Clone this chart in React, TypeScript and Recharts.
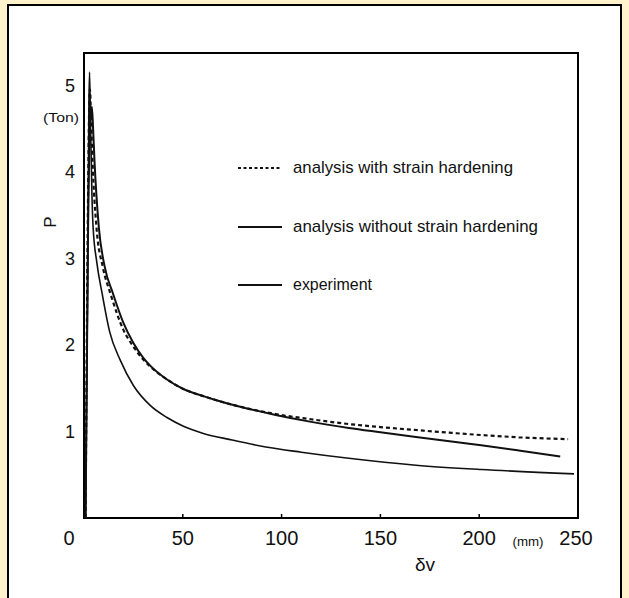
import React from 'react';
import { LineChart, Line, XAxis, YAxis, ReferenceArea } from 'recharts';

// P (Ton) versus δv (mm)
const withHardening: [number, number][] = [
  [0.8, 0], [2.0, 3.6], [2.6, 4.7], [3.0, 4.95], [3.6, 4.6], [4.3, 4.13], [6.3, 3.36],
  [9.5, 2.9], [13.4, 2.59], [20, 2.17], [25, 1.98], [30, 1.83], [33.5, 1.75], [42, 1.6],
  [50.3, 1.49], [60, 1.41], [67, 1.36], [80, 1.28], [97, 1.2], [115, 1.14], [134, 1.085],
  [150, 1.05], [168, 1.016], [185, 0.985], [201, 0.958], [220, 0.932], [245, 0.91],
];
const withoutHardening: [number, number][] = [
  [0.8, 0], [2.0, 3.2], [3.0, 4.5], [4.0, 4.75], [4.6, 4.5], [5.3, 4.13], [7.5, 3.36],
  [10.5, 2.9], [14.7, 2.59], [20, 2.25], [25, 2.02], [30, 1.85], [33.5, 1.76], [42, 1.6],
  [50.3, 1.49], [60, 1.41], [67, 1.36], [80, 1.28], [97, 1.19], [115, 1.11], [134, 1.04],
  [150, 0.99], [168, 0.935], [185, 0.885], [201, 0.84], [220, 0.78], [241, 0.71],
];
const experiment: [number, number][] = [
  [0.8, 0], [1.8, 2.6], [2.5, 4.8], [2.8, 5.15], [3.3, 4.55], [4.0, 3.75], [4.6, 3.36],
  [6.5, 2.95], [9.2, 2.59], [13, 2.15], [18.4, 1.82], [25, 1.53], [33.5, 1.3], [42, 1.16],
  [50.3, 1.06], [60, 0.98], [75, 0.9], [92, 0.82], [110, 0.76], [134, 0.69], [168, 0.61],
  [201, 0.56], [248, 0.51],
];

const xTicks = [0, 50, 100, 150, 200, 250];
const yTicks = [1, 2, 3, 4, 5];
const legendLabels = [
  'analysis with strain hardening',
  'analysis without strain hardening',
  'experiment',
];
const xUnit = '(mm)';
const xTitle = 'δv';
const yUnit = '(Ton)';
const yTitle = 'P';

const toRows = (arr: [number, number][]) => arr.map(([x, p]) => ({ x, p }));

const FONT = "'Liberation Sans', Arial, sans-serif";

const renderXTick = (props: any) => {
  const { x, y, payload } = props;
  const v = payload.value;
  const dx = v === 0 ? -15 : v === 250 ? -2 : 0;
  return (
    <g key={`xt-${v}`}>
      {v > 0 && v < 250 && (
        <line x1={x} y1={y} x2={x} y2={y - 4} stroke="#000" strokeWidth={1.5} />
      )}
      <text x={x + dx} y={y + 27} textAnchor="middle" fontSize={20} fontFamily={FONT} fill="#111">
        {v}
      </text>
    </g>
  );
};

const renderYTick = (props: any) => {
  const { x, y, payload } = props;
  return (
    <text key={`yt-${payload.value}`} x={x - 14} y={y + 6.5} textAnchor="middle" fontSize={18} fontFamily={FONT} fill="#111">
      {payload.value}
    </text>
  );
};

const legendWidths = [220, 245, 79];
const legendYs = [168, 227, 285];
const legendDash = ['3 2.5', undefined, undefined];

export default function App() {
  return (
    <div
      style={{
        position: 'absolute',
        left: 0,
        top: 0,
        width: 629,
        height: 598,
        background: '#FFF2CC',
        overflow: 'hidden',
      }}
    >
      <div
        style={{
          position: 'absolute',
          left: 7,
          top: 4,
          width: 615,
          height: 620,
          border: '2px solid #000',
          background: '#fff',
          boxSizing: 'border-box',
        }}
      />
      <div style={{ position: 'absolute', left: 0, top: 0 }}>
        <LineChart
          width={629}
          height={598}
          margin={{ top: 53, left: 24, right: 51, bottom: 50 }}
        >
          <XAxis
            type="number"
            dataKey="x"
            domain={[0, 250]}
            ticks={xTicks}
            height={30}
            tickSize={0}
            tickMargin={0}
            axisLine={false}
            tickLine={false}
            tick={renderXTick}
            interval={0}
            allowDataOverflow
          />
          <YAxis
            type="number"
            dataKey="p"
            domain={[0, 5.37]}
            ticks={yTicks}
            width={60}
            tickSize={0}
            tickMargin={0}
            axisLine={false}
            tickLine={false}
            tick={renderYTick}
            interval={0}
            allowDataOverflow
          />
          <ReferenceArea
            x1={0}
            x2={250}
            y1={0}
            y2={5.37}
            fill="none"
            fillOpacity={0}
            stroke="#000"
            strokeWidth={2}
            ifOverflow="visible"
          />
          <Line
            data={toRows(withHardening)}
            dataKey="p"
            type="monotone"
            stroke="#111"
            strokeWidth={2.2}
            strokeDasharray="4 3"
            dot={false}
            isAnimationActive={false}
          />
          <Line
            data={toRows(withoutHardening)}
            dataKey="p"
            type="monotone"
            stroke="#111"
            strokeWidth={2}
            dot={false}
            isAnimationActive={false}
          />
          <Line
            data={toRows(experiment)}
            dataKey="p"
            type="monotone"
            stroke="#111"
            strokeWidth={1.6}
            dot={false}
            isAnimationActive={false}
          />
        </LineChart>
      </div>
      <svg
        width={629}
        height={598}
        style={{ position: 'absolute', left: 0, top: 0, pointerEvents: 'none' }}
      >
        {legendLabels.map((label, i) => (
          <g key={label}>
            <line
              x1={238}
              x2={282}
              y1={legendYs[i]}
              y2={legendYs[i]}
              stroke="#111"
              strokeWidth={2}
              strokeDasharray={legendDash[i]}
            />
            <text
              x={293}
              y={legendYs[i] + 4.5}
              fontSize={17}
              fontFamily={FONT}
              fill="#111"
              textLength={legendWidths[i]}
              lengthAdjust="spacingAndGlyphs"
            >
              {label}
            </text>
          </g>
        ))}
        <text x={61} y={122} textAnchor="middle" fontSize={13} fontFamily={FONT} fill="#111" textLength={36} lengthAdjust="spacingAndGlyphs">
          {yUnit}
        </text>
        <text x={0} y={0} transform="translate(56,222) rotate(-90)" textAnchor="middle" fontSize={17} fontFamily={FONT} fill="#111">
          {yTitle}
        </text>
        <text x={528} y={546} textAnchor="middle" fontSize={13} fontFamily={FONT} fill="#111" textLength={31} lengthAdjust="spacingAndGlyphs">
          {xUnit}
        </text>
        <text x={425} y={571} textAnchor="middle" fontSize={19} fontFamily={FONT} fill="#111">
          {xTitle}
        </text>
      </svg>
    </div>
  );
}
